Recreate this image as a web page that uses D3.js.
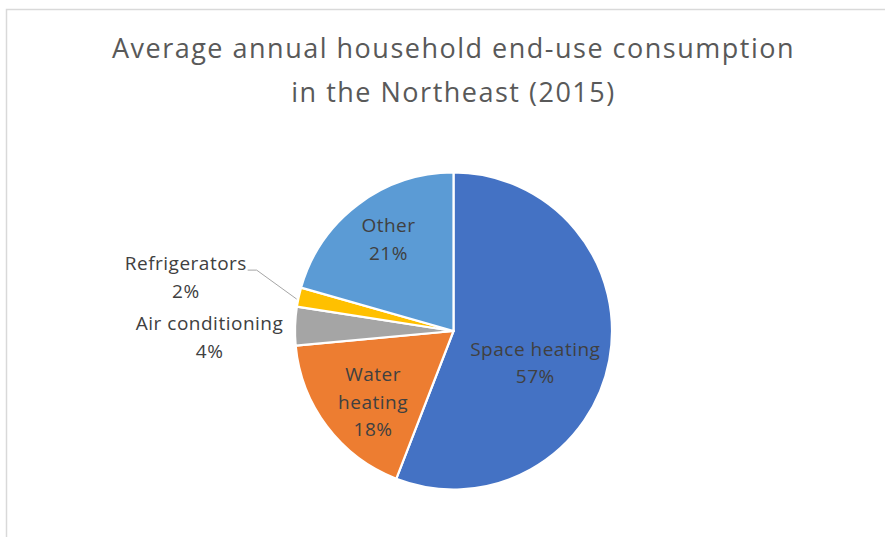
<!DOCTYPE html>
<html>
<head>
<meta charset="utf-8">
<script src="https://cdn.jsdelivr.net/npm/d3@7"></script>
<style>
  html, body { margin: 0; padding: 0; background: #fff; }
  svg { display: block; }
  text { font-family: "Open Sans", "Liberation Sans", sans-serif; }
</style>
</head>
<body>
<svg id="chart" width="885" height="537"></svg>
<script>
// Household end-use shares, Northeast 2015 (percent)
const categories = ["Space heating", "Water heating", "Air conditioning", "Refrigerators", "Other"];
const shares = [57, 18, 4, 2, 21];
const colors = ["#4472C4", "#ED7D31", "#A5A5A5", "#FFC000", "#5B9BD5"];
const outsideLabels = ["Air conditioning", "Refrigerators"];
const titleLines = ["Average annual household end-use consumption", "in the Northeast (2015)"];

// small hand adjustments of the inside labels, in pixels from the slice centroid
const labelNudge = {
  "Space heating": [-21, 13.5],
  "Water heating": [3, 8.5],
  "Other": [-2, -7.75]
};

const W = 885, H = 537;
const cx = 453.5, cy = 331, R = 158.5;
const lineH = 27.5;
const labelFont = 19, labelSpacing = 0.5;

const svg = d3.select("#chart");

// chart area frame
svg.append("rect")
  .attr("x", 6.5).attr("y", 9.5)
  .attr("width", W + 20).attr("height", H + 20)
  .attr("fill", "#fff")
  .attr("stroke", "#d9d9d9")
  .attr("stroke-width", 1.5);

// title
svg.append("g")
  .selectAll("text")
  .data(titleLines)
  .join("text")
  .attr("x", cx)
  .attr("y", (d, i) => 58 + i * 44)
  .attr("text-anchor", "middle")
  .attr("fill", "#595959")
  .attr("font-size", 27)
  .attr("letter-spacing", 1.5)
  .text(d => d);

const data = categories.map((c, i) => ({ name: c, value: shares[i], color: colors[i] }));

const pie = d3.pie().value(d => d.value).sort(null);
const arcs = pie(data);

const arc = d3.arc().innerRadius(0).outerRadius(R);
const labelArc = d3.arc().innerRadius(R * 0.66).outerRadius(R * 0.66);
const rimArc = d3.arc().innerRadius(R).outerRadius(R);

const g = svg.append("g").attr("transform", `translate(${cx},${cy})`);

g.selectAll("path")
  .data(arcs)
  .join("path")
  .attr("d", arc)
  .attr("fill", d => d.data.color)
  .attr("stroke", "#fff")
  .attr("stroke-width", 2.2)
  .attr("stroke-linejoin", "round");

function labelLines(d) {
  const pct = d.data.value + "%";
  if (d.data.name === "Water heating") return ["Water", "heating", pct];
  return [d.data.name, pct];
}

function labelText() {
  return g.append("text")
    .attr("text-anchor", "middle")
    .attr("fill", "#404040")
    .attr("font-size", labelFont)
    .attr("letter-spacing", labelSpacing);
}

// labels inside slices
const inside = arcs.filter(d => !outsideLabels.includes(d.data.name));
inside.forEach(d => {
  const [x0, y0] = labelArc.centroid(d);
  const [dx, dy] = labelNudge[d.data.name] || [0, 0];
  const x = x0 + dx, y = y0 + dy;
  const lines = labelLines(d);
  const t = labelText();
  lines.forEach((s, i) => {
    t.append("tspan")
      .attr("x", x)
      .attr("y", y + (i - (lines.length - 1) / 2) * lineH + 6)
      .text(s);
  });
});

// labels outside the pie, stacked upward on the left side
const outside = arcs.filter(d => outsideLabels.includes(d.data.name))
  .sort((a, b) => a.startAngle - b.startAngle);
let prevY = null;
outside.forEach(d => {
  const [rx, ry] = rimArc.centroid(d);
  const lines = labelLines(d);
  let by = ry + 12;
  let right = rx - 12;
  let leader = false;
  if (prevY !== null && by > prevY - lineH * 2 - 5) {
    by = prevY - lineH * 2 - 5;
    leader = true;
  }
  const t = labelText();
  const spans = lines.map(s => t.append("tspan").text(s));
  const wMax = d3.max(spans, s => s.node().getComputedTextLength()) - labelSpacing;
  if (leader) {
    const ex = rx - 42, ey = by - 8;
    right = ex - 10;
    g.append("polyline")
      .attr("points", [[rx - 2, ry + 2], [ex, ey], [right + 1, ey]].map(p => p.join(",")).join(" "))
      .attr("fill", "none")
      .attr("stroke", "#a6a6a6")
      .attr("stroke-width", 1);
  }
  const mid = right - wMax / 2;
  spans.forEach((s, i) => {
    s.attr("x", mid).attr("y", by + (i - (lines.length - 1) / 2) * lineH + 6);
  });
  prevY = by;
});
</script>
</body>
</html>
